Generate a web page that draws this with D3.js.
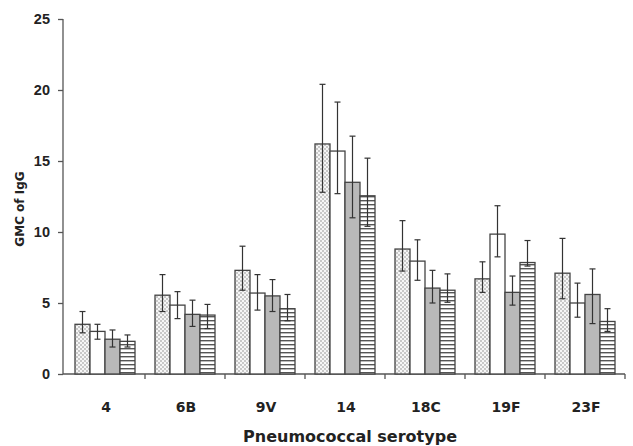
<!DOCTYPE html>
<head>
  <meta charset="utf-8">
  <title>GMC of IgG</title>
  <script src="https://d3js.org/d3.v7.min.js"></script>
  <style type="text/css">
    body { margin: 0; background: #fff; }
    svg { font-family: "DejaVu Sans", Arial, sans-serif; }
    .tick text { font-size: 14.5px; font-weight: bold; fill: #222; }
    .domain, .tick line { stroke: #555; stroke-width: 1.3px; }
    .bar { stroke: #444; stroke-width: 1.3px; }
    .err { stroke: #333; stroke-width: 1.2px; fill: none; }
  </style>
</head>
<body>
  <div id="graph-container"></div>

<script>
// ---- data ----
const serotypes = ["4", "6B", "9V", "14", "18C", "19F", "23F"];
const groups = ["g1", "g2", "g3", "g4"];

const gmc1 = [3.5, 5.55, 7.3, 16.2, 8.8, 6.7, 7.1];
const gmc2 = [3.0, 4.85, 5.7, 15.7, 7.95, 9.85, 5.0];
const gmc3 = [2.45, 4.2, 5.5, 13.5, 6.05, 5.75, 5.6];
const gmc4 = [2.3, 4.15, 4.6, 12.55, 5.9, 7.85, 3.7];

const upper1 = [4.4, 7.0, 9.0, 20.4, 10.8, 7.9, 9.55];
const upper2 = [3.5, 5.8, 7.0, 19.15, 9.45, 11.85, 6.4];
const upper3 = [3.1, 5.2, 6.65, 16.75, 7.3, 6.9, 7.4];
const upper4 = [2.75, 4.9, 5.6, 15.2, 7.05, 9.4, 4.6];

const lower1 = [2.9, 4.4, 5.9, 12.8, 7.25, 5.75, 5.3];
const lower2 = [2.45, 3.9, 4.5, 12.7, 6.6, 8.25, 4.0];
const lower3 = [1.9, 3.35, 4.4, 11.0, 5.0, 4.85, 3.55];
const lower4 = [1.9, 3.2, 3.75, 10.4, 5.05, 7.6, 3.0];

const yTicks = [0, 5, 10, 15, 20, 25];

// ================= chart =================
const width = 633, height = 446;
const margin = { top: 19, right: 8, bottom: 72, left: 65 };

const svg = d3.select("#graph-container").append("svg")
    .attr("width", width)
    .attr("height", height);

// fill patterns
const defs = svg.append("defs");
const checker = defs.append("pattern")
    .attr("id", "checker")
    .attr("patternUnits", "userSpaceOnUse")
    .attr("width", 4).attr("height", 4);
checker.append("rect").attr("width", 4).attr("height", 4).attr("fill", "#f6f6f6");
checker.append("rect").attr("width", 2).attr("height", 2).attr("fill", "#c8c8c8");
checker.append("rect").attr("x", 2).attr("y", 2).attr("width", 2).attr("height", 2).attr("fill", "#c8c8c8");

const hlines = defs.append("pattern")
    .attr("id", "hlines")
    .attr("patternUnits", "userSpaceOnUse")
    .attr("width", 4).attr("height", 4);
hlines.append("rect").attr("width", 4).attr("height", 4).attr("fill", "#fff");
hlines.append("rect").attr("y", 0).attr("width", 4).attr("height", 1.4).attr("fill", "#555");

const fills = ["url(#checker)", "#fff", "#b9b9b9", "url(#hlines)"];

const x0 = d3.scaleBand()
    .domain(serotypes)
    .range([margin.left, width - margin.right])
    .paddingInner(0.25)
    .paddingOuter(0.125);

// full band for axis ticks (between groups)
const xAxisScale = d3.scaleBand()
    .domain(serotypes)
    .range([margin.left, width - margin.right]);

const x1 = d3.scaleBand()
    .domain(groups)
    .range([0, x0.bandwidth()]);

const y = d3.scaleLinear()
    .domain([0, 25])
    .range([height - margin.bottom, margin.top]);

const vals = [gmc1, gmc2, gmc3, gmc4];
const ups = [upper1, upper2, upper3, upper4];
const lows = [lower1, lower2, lower3, lower4];

const rows = [];
serotypes.forEach((s, i) => {
  groups.forEach((g, j) => {
    rows.push({ s: s, g: g, j: j, v: vals[j][i], hi: ups[j][i], lo: lows[j][i] });
  });
});

// y axis
svg.append("g")
    .attr("transform", "translate(" + (margin.left - 2) + ",0)")
    .call(d3.axisLeft(y).tickValues(yTicks).tickSize(5).tickPadding(8))
    .call(g => g.select(".domain").attr("d", "M0," + y(0) + "V" + y(25)));

// x axis with ticks at group boundaries
const xg = svg.append("g")
    .attr("transform", "translate(0," + y(0) + ")");
xg.append("line")
    .attr("class", "domain")
    .attr("x1", margin.left - 2).attr("x2", width - margin.right)
    .attr("y1", 0).attr("y2", 0);
xg.selectAll(".bound")
    .data(serotypes)
    .enter().append("line")
    .attr("class", "bound")
    .attr("stroke", "#555").attr("stroke-width", 1.3)
    .attr("x1", d => xAxisScale(d) + xAxisScale.bandwidth())
    .attr("x2", d => xAxisScale(d) + xAxisScale.bandwidth())
    .attr("y1", 0).attr("y2", 5);
xg.selectAll(".xlab")
    .data(serotypes)
    .enter().append("text")
    .attr("x", d => x0(d) + x0.bandwidth() / 2 + 1)
    .attr("y", 38)
    .attr("text-anchor", "middle")
    .attr("font-size", 14).attr("font-weight", "bold").attr("fill", "#222")
    .text(d => d);

// bars
svg.selectAll(".bar")
    .data(rows)
    .enter().append("rect")
    .attr("class", "bar")
    .attr("x", d => x0(d.s) + x1(d.g))
    .attr("y", d => y(d.v))
    .attr("width", x1.bandwidth())
    .attr("height", d => y(0) - y(d.v))
    .attr("fill", d => fills[d.j]);

// error bars
const err = svg.selectAll(".errg")
    .data(rows)
    .enter().append("g")
    .attr("class", "err")
    .attr("transform", d => "translate(" + (x0(d.s) + x1(d.g) + x1.bandwidth() / 2) + ",0)");
err.append("line").attr("y1", d => y(d.hi)).attr("y2", d => y(d.lo));
err.append("line").attr("x1", -3).attr("x2", 3).attr("y1", d => y(d.hi)).attr("y2", d => y(d.hi));
err.append("line").attr("x1", -3).attr("x2", 3).attr("y1", d => y(d.lo)).attr("y2", d => y(d.lo));

// axis titles
svg.append("text")
    .attr("transform", "translate(24,209) rotate(-90)")
    .attr("text-anchor", "middle")
    .attr("font-size", 12).attr("font-weight", "bold").attr("fill", "#222")
    .text("GMC of IgG");

svg.append("text")
    .attr("x", 350).attr("y", 442)
    .attr("text-anchor", "middle")
    .attr("font-size", 16).attr("font-weight", "bold").attr("fill", "#222")
    .text("Pneumococcal serotype");
</script>
